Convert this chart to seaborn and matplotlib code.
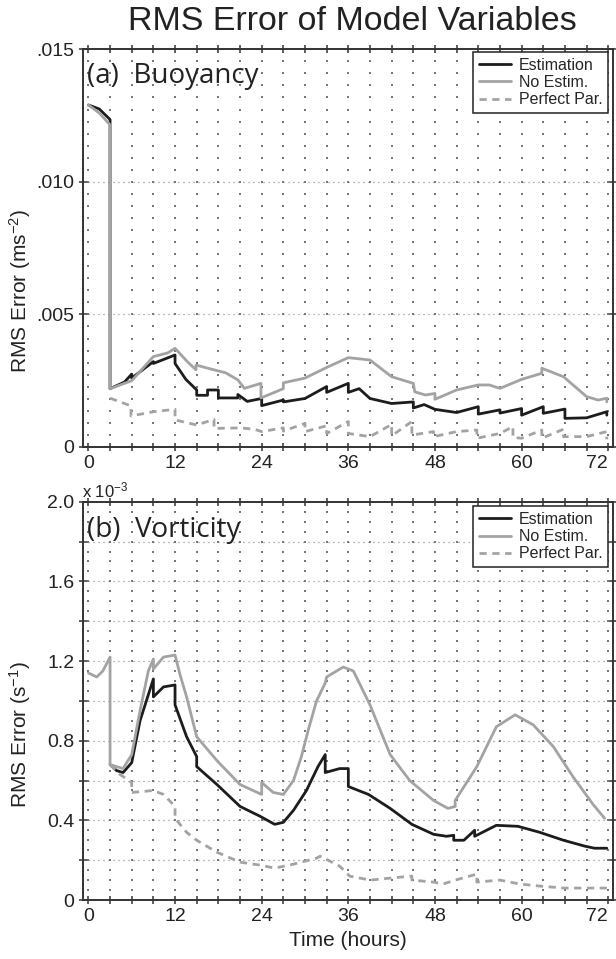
import numpy as np
import pandas as pd
import matplotlib
matplotlib.use("Agg")
import matplotlib.pyplot as plt
import seaborn as sns
from matplotlib.ticker import MultipleLocator, FixedLocator, FixedFormatter

# ---------------- data ----------------
# Panel (a) Buoyancy, values in units of 1e-3 m s^-2
buoy_est_t = [0, 1.5, 3, 3, 5, 6, 6, 9, 9, 12, 12, 13.5, 15, 15, 16.5, 16.5, 18, 18, 20.7, 20.7, 22, 24, 24,
              27, 27, 30, 33, 33, 36, 36, 37.5, 39, 42, 45, 45, 46.5, 48, 51, 54, 54, 57, 57, 60, 60,
              63, 63, 66, 66, 69, 71.8, 71.8]
buoy_est_v = [12.9, 12.75, 12.35, 2.2, 2.45, 2.75, 2.6, 3.22, 3.15, 3.47, 3.15, 2.55, 2.15, 1.95, 1.95, 2.15, 2.15, 1.85, 1.85, 1.98, 1.72, 1.83, 1.56,
              1.77, 1.70, 1.83, 2.28, 2.06, 2.40, 2.06, 2.20, 1.83, 1.64, 1.70, 1.47, 1.60, 1.42, 1.30, 1.52, 1.24, 1.40, 1.28, 1.45, 1.20,
              1.52, 1.27, 1.43, 1.08, 1.10, 1.33, 1.20]

buoy_noe_t = [0, 1.5, 3, 3, 6, 9, 11, 12, 13.7, 14.9, 14.9, 17.4, 19, 20.7, 21.6, 23.9, 23.9, 27, 27, 30, 33, 36, 39, 42,
              45, 45.2, 46.7, 48, 48, 51, 54, 55.5, 57, 60, 62.8, 62.8, 65.8, 69, 70.6, 71.8, 71.8]
buoy_noe_v = [12.9, 12.6, 12.15, 2.2, 2.5, 3.41, 3.55, 3.72, 3.22, 2.91, 3.09, 2.91, 2.80, 2.53, 2.21, 2.40, 1.85, 2.20, 2.42, 2.60, 3.00, 3.37, 3.28, 2.65,
              2.40, 2.08, 1.96, 2.02, 1.80, 2.15, 2.34, 2.34, 2.21, 2.55, 2.78, 2.97, 2.65, 1.90, 1.77, 1.84, 1.70]

buoy_perf_t = [3, 5.9, 5.9, 9, 12, 12, 15, 17.4, 17.4, 21, 23, 24, 27, 27, 30, 30, 33, 33, 36, 36, 39, 42, 42,
               44.8, 44.8, 47.8, 47.8, 51, 53.8, 53.8, 57, 58.8, 58.8, 60, 62.8, 62.8, 65.8, 65.8, 69, 71.8, 71.8]
buoy_perf_v = [1.84, 1.55, 1.17, 1.33, 1.42, 1.02, 0.83, 1.04, 0.70, 0.72, 0.67, 0.58, 0.72, 0.60, 0.89, 0.58, 0.80, 0.51, 0.96, 0.51, 0.39, 0.85, 0.42,
               0.96, 0.45, 0.58, 0.39, 0.58, 0.64, 0.33, 0.51, 0.77, 0.36, 0.33, 0.64, 0.33, 0.67, 0.39, 0.39, 0.58, 0.29]

# Panel (b) Vorticity, values in units of 1e-3 s^-1
vort_est_t = [3, 3.9, 4.8, 6, 7.15, 9, 9, 10.4, 12, 12, 13.6, 15, 15, 17.8, 21, 23.8, 25.8, 27, 28.4, 30.2, 31.8, 32.8, 32.8,
              34.8, 36, 36, 38.8, 41.8, 44.8, 47.8, 49.6, 50.6, 50.6, 52, 53.5, 53.5, 56.5, 59.5, 62.5, 65.8, 68.8, 70.1, 71.8]
vort_est_v = [0.68, 0.65, 0.64, 0.69, 0.90, 1.11, 1.02, 1.07, 1.08, 0.98, 0.82, 0.72, 0.67, 0.58, 0.47, 0.42, 0.38, 0.39, 0.45, 0.55, 0.67, 0.73, 0.64,
              0.66, 0.66, 0.57, 0.53, 0.46, 0.38, 0.33, 0.32, 0.325, 0.30, 0.30, 0.35, 0.32, 0.375, 0.37, 0.34, 0.30, 0.27, 0.26, 0.26]

vort_noe_t = [0, 1.15, 2, 3, 3, 3.9, 4.8, 6, 7.15, 8.3, 9, 9, 10.4, 12, 12.7, 13.6, 15, 17.8, 21, 24, 24, 25.6, 27, 28.4,
              29.5, 30.5, 31.6, 32.8, 33, 35.3, 36.7, 39, 41.8, 44.5, 47.8, 49.8, 50.8, 50.8, 53.8, 56.5, 59.1, 61.6, 64.4,
              67.1, 69.9, 71.5]
vort_noe_v = [1.14, 1.12, 1.15, 1.22, 0.68, 0.67, 0.66, 0.73, 0.95, 1.15, 1.21, 1.16, 1.22, 1.23, 1.13, 1.02, 0.82, 0.70, 0.58, 0.53, 0.59, 0.54, 0.53, 0.60,
              0.72, 0.86, 1.00, 1.09, 1.12, 1.17, 1.15, 0.98, 0.73, 0.60, 0.50, 0.46, 0.47, 0.50, 0.67, 0.87, 0.93, 0.88, 0.77,
              0.62, 0.48, 0.41]

vort_perf_t = [3, 4.4, 6, 6, 9, 10.4, 12, 12, 13.6, 15, 17.8, 21, 23.8, 25.8, 28.4, 31.6, 32.1, 34.8, 36.2, 39, 41.8, 44.8, 44.8,
               47.8, 49.1, 50.8, 53.8, 53.8, 57, 59.8, 62.5, 65.8, 69, 71.8]
vort_perf_v = [0.68, 0.63, 0.59, 0.54, 0.55, 0.53, 0.47, 0.41, 0.34, 0.30, 0.24, 0.19, 0.175, 0.16, 0.18, 0.21, 0.22, 0.17, 0.12, 0.10, 0.11, 0.12, 0.10,
               0.09, 0.08, 0.10, 0.13, 0.09, 0.10, 0.08, 0.07, 0.06, 0.06, 0.06]

series_names = ["Estimation", "No Estim.", "Perfect Par."]
x_tick_labels = ["0", "12", "24", "36", "48", "60", "72"]
buoy_tick_labels = ["0", ".005", ".010", ".015"]
vort_tick_labels = ["0", "", "0.4", "", "0.8", "", "1.2", "", "1.6", "", "2.0"]

# ---------------- style ----------------
sns.set_style("white")
plt.rcParams["font.family"] = ["Liberation Sans", "DejaVu Sans"]
plt.rcParams["mathtext.default"] = "regular"

DARK = "#1c1c1c"
GRAY = "#a3a3a3"
SPINE = "#333333"
TXT = "#222222"

fig = plt.figure(figsize=(6.16, 9.59), dpi=100)
ax1 = fig.add_axes([0.13425, 0.5339, 0.8609, 0.4147])
ax2 = fig.add_axes([0.13425, 0.06152, 0.8609, 0.4153])


def draw_series(ax, t_est, v_est, t_noe, v_noe, t_perf, v_perf, scale):
    styles = [(t_est, v_est, DARK, "-"), (t_noe, v_noe, GRAY, "-"), (t_perf, v_perf, GRAY, (0, (2.6, 2.0)))]
    for name, (t, v, c, ls) in zip(series_names, styles):
        df = pd.DataFrame({"t": t, "v": np.array(v) * scale})
        sns.lineplot(data=df, x="t", y="v", ax=ax, estimator=None, sort=False,
                     color=c, linewidth=2.0, linestyle=ls, label=name, zorder=3)


def style_axes(ax, ymax, minor_rows, major_rows):
    ax.set_xlim(-0.79, 72.66)
    ax.set_ylim(0, ymax)
    # dotted grid (dots at minor intersections, denser dotted major rows)
    cols = np.arange(0, 73, 3)
    gx, gy = np.meshgrid(cols, minor_rows)
    ax.scatter(gx.ravel(), gy.ravel(), s=0.7, marker="s", color="#777777", linewidths=0, zorder=1)
    for yv in major_rows:
        ax.axhline(yv, color="#7a7a7a", linestyle=(0, (0.8, 3.2)), linewidth=0.9, zorder=1)
    for sp in ax.spines.values():
        sp.set_visible(True)
        sp.set_color(SPINE)
        sp.set_linewidth(1.4)
    ax.xaxis.set_major_locator(FixedLocator(np.arange(0, 73, 12)))
    ax.xaxis.set_major_formatter(FixedFormatter(x_tick_labels))
    ax.xaxis.set_minor_locator(MultipleLocator(3))
    ax.tick_params(axis="both", which="both", direction="inout", length=6, width=1.1,
                   color=SPINE, top=True, right=True, bottom=True, left=True,
                   labelsize=14, labelcolor=TXT, pad=3)
    ax.tick_params(axis="y", which="minor", length=0)
    ax.set_xlabel("")


draw_series(ax1, buoy_est_t, buoy_est_v, buoy_noe_t, buoy_noe_v, buoy_perf_t, buoy_perf_v, 1e-3)
draw_series(ax2, vort_est_t, vort_est_v, vort_noe_t, vort_noe_v, vort_perf_t, vort_perf_v, 1.0)

style_axes(ax1, 0.015, np.linspace(0, 0.015, 34)[1:-1], [0.005, 0.010])
style_axes(ax2, 2.0, np.arange(0.05, 2.0, 0.05), np.arange(0.2, 1.9, 0.2))

ax1.yaxis.set_major_locator(FixedLocator([0, 0.005, 0.010, 0.015]))
ax1.yaxis.set_major_formatter(FixedFormatter(buoy_tick_labels))
ax2.yaxis.set_major_locator(FixedLocator(np.round(np.arange(0, 2.01, 0.2), 2)))
ax2.yaxis.set_major_formatter(FixedFormatter(vort_tick_labels))

# keep the right-most x tick label inside the canvas
for ax in (ax1, ax2):
    fig.canvas.draw()
    lbl = ax.get_xticklabels()[-1]
    lbl.set_horizontalalignment("right")

ax1.set_ylabel("RMS Error (ms$^{-2}$)", fontsize=15, color=TXT)
ax2.set_ylabel("RMS Error (s$^{-1}$)", fontsize=15, color=TXT)
ax1.yaxis.set_label_coords(-0.094, 0.392)
ax2.yaxis.set_label_coords(-0.094, 0.415)
ax2.set_xlabel("Time (hours)", fontsize=15, color=TXT, labelpad=4)

panel_font = ["Open Sans", "DejaVu Sans"]
ax1.text(0.0075, 0.9145, "(a)  Buoyancy", transform=ax1.transAxes, fontsize=20,
         family=panel_font, color=TXT, va="baseline", ha="left", zorder=5)
ax2.text(0.0075, 0.912, "(b)  Vorticity", transform=ax2.transAxes, fontsize=20,
         family=panel_font, color=TXT, va="baseline", ha="left", zorder=5)

for ax, yanchor in ((ax1, 0.9932), (ax2, 0.989)):
    leg = ax.legend(loc="upper right", bbox_to_anchor=(0.9906, yanchor), borderaxespad=0,
                    prop={"family": ["Liberation Sans Narrow", "Liberation Sans"], "size": 11.5},
                    frameon=True, fancybox=False, framealpha=1,
                    edgecolor=TXT, handlelength=2.0, handletextpad=0.5,
                    labelspacing=0.15, borderpad=0.35)
    leg.get_frame().set_linewidth(1.1)
    leg.set_zorder(6)

fig.text(82 / 616, 1 - 497 / 959, "x 10$^{-3}$", fontsize=12, color=TXT,
         ha="left", va="baseline")
fig.text(352 / 616, 1 - 22 / 959, "RMS Error of Model Variables", fontsize=24.5,
         color=TXT, ha="center", va="center")

fig.savefig("out.png", dpi=100)
